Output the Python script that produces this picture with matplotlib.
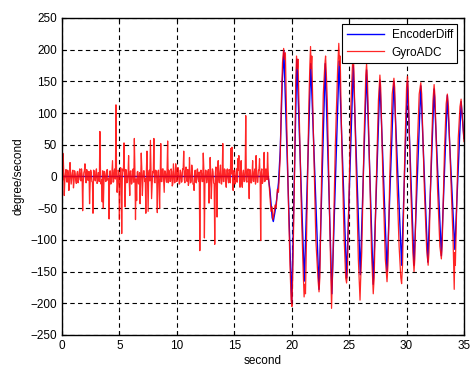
import matplotlib
matplotlib.use("Agg")
import matplotlib.pyplot as plt

# GyroADC while standing still, one sample every 0.1 s from 0.0 to 17.9 s
still_t = [i / 10 for i in range(180)]
still_v = [
    8, 36, -30, 5, -8, 10, -22, 22, -12, 6,
    -18, 9, -6, 4, -10, 7, -5, 12, -54, 6,
    20, -10, 8, -6, -43, 10, -8, -58, 9, -7,
    12, -9, 6, 71, -12, -40, -50, 8, -8, 10,
    -6, -67, 9, -10, 25, -8, 12, 113, -25, 10,
    -68, 14, -90, 12, 53, -48, 10, -8, 33, -30,
    9, -10, 12, 60, -68, -38, 8, -12, -43, 37,
    -30, 9, -8, -58, 40, -55, 10, 57, -35, 8,
    60, -10, 9, -57, 10, -50, 52, -8, 12, -25,
    8, -9, 56, 10, -8, 12, -15, 20, -10, 20,
    -8, 14, -12, 10, -9, 12, 40, -10, 15, -8,
    -14, 30, -10, 18, -12, -22, 10, -10, 12, -8,
    -117, 10, -8, 37, -97, 10, -10, 8, -42, 30,
    -35, 12, -10, -107, 15, -64, 25, -10, 18, -12,
    52, -8, 10, -17, 12, -10, 8, 44, 46, -22,
    10, -9, 12, 28, 33, -17, 25, -17, 10, -8,
    96, -9, 12, -35, 10, -10, 25, -8, 12, 33,
    -9, 10, 28, -101, 12, -8, 38, -6, 10, 38,
]
# the in-between samples (0.05, 0.15, ... 17.95 s)
still_mid_t = [i / 10 + 0.05 for i in range(180)]
still_mid_v = [
    -6, 9, -4, 11, -9, 5, -12, 7, -3, 10,
    -8, 4, -11, 8, -5, 12, -7, 3, -10, 9,
    -4, 11, -6, 8, -12, 5, -9, 10, -3, 7,
    -11, 6, -8, 12, -5, 9, -10, 4, -7, 11,
    -3, 8, -12, 6, -9, 10, -4, 7, -11, 5,
    -8, 12, -6, 9, -3, 11, -10, 4, -7, 8,
    -12, 5, -9, 10, -4, 7, -11, 6, -8, 12,
    -5, 9, -3, 11, -10, 4, -7, 8, -12, 6,
    -9, 10, -4, 7, -11, 5, -8, 12, -6, 9,
    -3, 11, -10, 4, -7, 8, -12, 5, -9, 10,
    -4, 7, -11, 6, -8, 12, -5, 9, -3, 11,
    -10, 4, -7, 8, -12, 6, -9, 10, -4, 7,
    -11, 5, -8, 12, -6, 9, -3, 11, -10, 4,
    -7, 8, -12, 5, -9, 10, -4, 7, -11, 6,
    -8, 12, -5, 9, -3, 11, -10, 4, -7, 8,
    -12, 6, -9, 10, -4, 7, -11, 5, -8, 12,
    -6, 9, -3, 11, -10, 4, -7, 8, -12, 5,
    -9, 10, -4, 7, -11, 6, -8, 12, -5, 9,
]

# GyroADC while swinging
swing_t = [
    18.0, 18.1, 18.2, 18.3, 18.35, 18.45, 18.55, 18.65, 18.75, 18.85,
    19.0, 19.1, 19.2, 19.3, 19.38, 19.45, 19.55, 19.7, 19.85, 19.95,
    20.02, 20.1, 20.25, 20.35, 20.42, 20.5, 20.55, 20.7, 20.85, 21.0,
    21.08, 21.15, 21.2, 21.35, 21.5, 21.58, 21.64, 21.7, 21.75, 21.9,
    22.1, 22.3, 22.38, 22.45, 22.6, 22.75, 22.88, 22.95, 23.02, 23.1,
    23.25, 23.4, 23.47, 23.52, 23.6, 23.8, 24.0, 24.1, 24.17, 24.22,
    24.35, 24.55, 24.7, 24.78, 24.85, 25.0, 25.15, 25.3, 25.36, 25.42,
    25.6, 25.8, 25.95, 26.0, 26.1, 26.3, 26.45, 26.52, 26.6, 26.8,
    26.95, 27.1, 27.18, 27.35, 27.55, 27.68, 27.75, 27.95, 28.15, 28.3,
    28.38, 28.55, 28.75, 28.9, 28.97, 29.15, 29.35, 29.5, 29.57, 29.65,
    29.85, 30.0, 30.08, 30.15, 30.35, 30.55, 30.65, 30.72, 30.9, 31.1,
    31.24, 31.32, 31.55, 31.75, 31.88, 31.95, 32.15, 32.3, 32.4, 32.48,
    32.7, 32.9, 33.03, 33.1, 33.3, 33.45, 33.55, 33.65, 33.85, 34.05,
    34.15, 34.2, 34.25, 34.35, 34.5, 34.65, 34.75, 34.85, 35.0,
]
swing_v = [
    -5, -30, -55, -48, -68, -60, -45, -50, -20, -25,
    30, 120, 180, 202, 185, 195, 100, -30, -140, -195,
    -205, -150, 10, 150, 190, 170, 185, 60, -60, -150,
    -190, -170, -185, -40, 120, 175, 205, 170, 190, 60,
    -100, -165, -182, -160, 0, 130, 175, 190, 160, 120,
    -20, -150, -208, -175, -120, 50, 170, 210, 175, 190,
    60, -90, -160, -168, -150, -20, 110, 180, 195, 165,
    20, -130, -195, -165, -120, 60, 160, 178, 150, 0,
    -120, -185, -160, -20, 120, 160, 140, -10, -130, -166,
    -140, 10, 130, 155, 140, 0, -110, -160, -169, -140,
    40, 140, 158, 135, -10, -120, -150, -130, 30, 130,
    148, 130, -20, -115, -140, -120, 30, 120, 145, 125,
    -20, -110, -130, -110, 40, 115, 130, 110, 0, -100,
    -178, -120, -140, -60, 60, 110, 122, 95, 55,
]

# EncoderDiff
enc_t = [
    0.0, 17.95, 18.1, 18.3, 18.4, 18.55, 18.7, 18.85, 19.0, 19.18,
    19.32, 20.0, 20.45, 21.1, 21.66, 22.38, 22.92, 23.5, 24.13, 24.78,
    25.36, 25.97, 26.52, 27.1, 27.68, 28.3, 28.9, 29.57, 30.08, 30.65,
    31.24, 31.85, 32.4, 33.03, 33.55, 34.2, 34.75, 35.0,
]
enc_v = [
    0, 0, -20, -65, -71, -55, -35, -10, 40, 150,
    198, -200, 185, -165, 178, -178, 178, -185, 182, -160,
    175, -155, 168, -170, 152, -150, 150, -140, 150, -140,
    143, -135, 138, -125, 128, -115, 118, 60,
]

# put the still samples in time order, then the swing
still = sorted(zip(still_t + still_mid_t, still_v + still_mid_v))
gyro_t = [p[0] for p in still] + swing_t
gyro_v = [p[1] for p in still] + swing_v

plt.rcParams["font.family"] = ["Liberation Sans", "DejaVu Sans"]
plt.rcParams["font.size"] = 8.5

fig = plt.figure(figsize=(4.75, 3.74), dpi=100)
ax = fig.add_axes([0.1305, 0.1043, 0.8463, 0.8476])

ax.plot(enc_t, enc_v, color="#0000ff", lw=1.0, label="EncoderDiff")
ax.plot(gyro_t, gyro_v, color="#ff0000", lw=0.9, alpha=0.85, label="GyroADC")

ax.set_xlim(0, 35)
ax.set_ylim(-250, 250)
ax.set_xticks(range(0, 36, 5))
ax.set_yticks(range(-250, 251, 50))
ax.grid(True, color="black", linestyle=(0, (4, 3)), linewidth=0.8)
ax.tick_params(direction="in", top=True, right=True, length=3, colors="black")
for s in ax.spines.values():
    s.set_linewidth(1.0)

ax.set_xlabel("second", labelpad=2)
ax.set_ylabel("degree/second", labelpad=4)

leg = ax.legend(loc="upper right", fancybox=False, edgecolor="black",
                framealpha=1, handlelength=3.2, borderaxespad=0.55,
                borderpad=0.4, labelspacing=0.45, handletextpad=0.6)
leg.get_frame().set_linewidth(0.8)

fig.savefig("out.png", dpi=100)
